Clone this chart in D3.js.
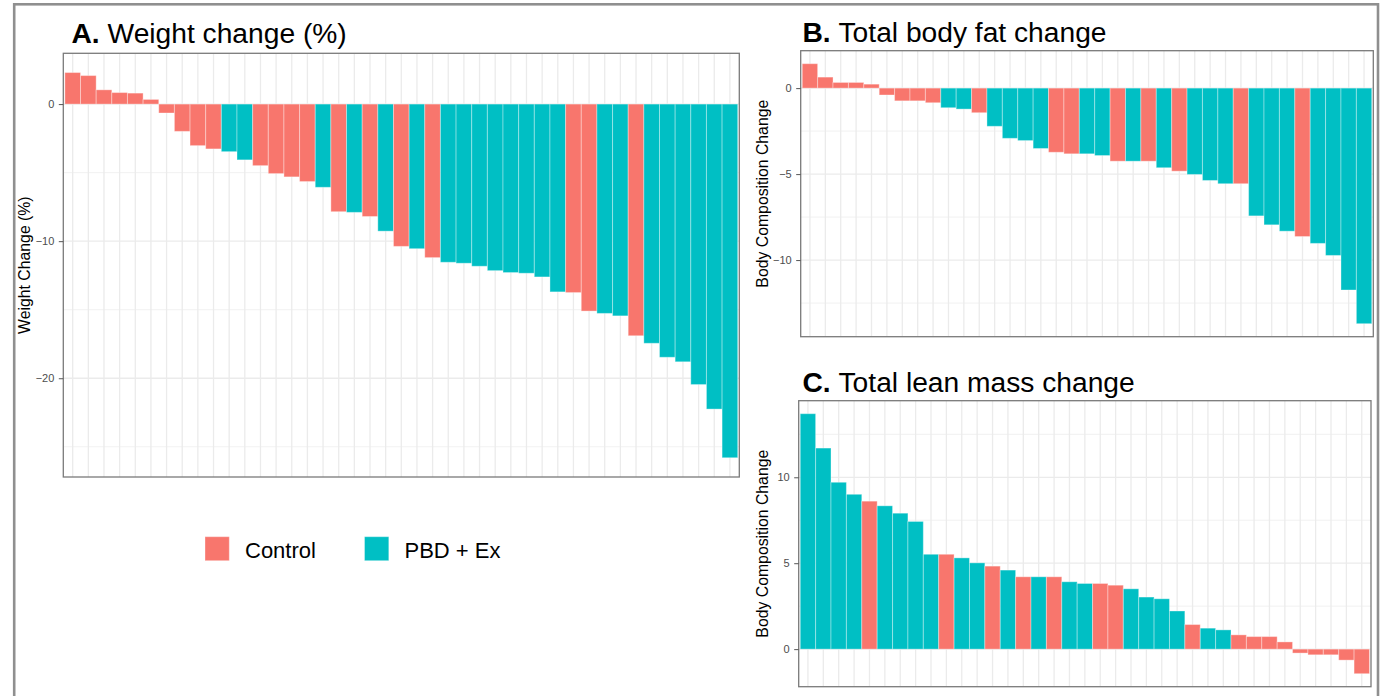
<!DOCTYPE html>
<html>
<head>
<meta charset="utf-8">
<script src="https://cdn.jsdelivr.net/npm/d3@7"></script>
<style>
  html, body { margin: 0; padding: 0; background: #fff; }
  svg { display: block; font-family: "Liberation Sans", Arial, sans-serif; }
</style>
</head>
<body>
<svg id="fig" width="1386" height="696"></svg>
<script>
// Group legend
const groupNames = ["Control", "PBD + Ex"];
const groupColors = ["#F8766D", "#00BFC4"];
const groupCode = { C: "Control", P: "PBD + Ex" };

// A. Weight change (%) per participant, sorted
const weightValues = [2.3, 2.08, 1.04, 0.84, 0.8, 0.34, -0.65, -1.99, -3.03, -3.27,
  -3.47, -4.07, -4.49, -5.07, -5.31, -5.65, -6.07, -7.85, -7.9, -8.2,
  -9.27, -10.38, -10.55, -11.2, -11.54, -11.61, -11.83, -12.15, -12.29, -12.34,
  -12.61, -13.7, -13.75, -15.1, -15.27, -15.45, -16.9, -17.45, -18.47, -18.8,
  -20.46, -22.25, -25.8];
const weightGroups = ("CCCCCCCCCC" + "PP" + "CCCC" + "P" + "C" + "P" + "C" + "P" +
  "C" + "P" + "C" + "PPPPPPPP" + "CC" + "PP" + "C" + "PPPPPP").split("");
const weightTicks = [0, -10, -20];

// B. Total body fat change
const fatValues = [1.42, 0.64, 0.33, 0.33, 0.23, -0.4, -0.74, -0.74, -0.85, -1.14,
  -1.22, -1.43, -2.22, -2.92, -3.05, -3.51, -3.73, -3.82, -3.82, -3.92,
  -4.25, -4.25, -4.25, -4.63, -4.83, -5.02, -5.37, -5.56, -5.56, -7.43,
  -7.95, -8.32, -8.63, -9.03, -9.73, -11.74, -13.7];
const fatGroups = ("CCCCCCCCC" + "PP" + "C" + "PPPP" + "CC" + "PP" + "C" + "P" +
  "C" + "P" + "C" + "PPP" + "C" + "PPP" + "C" + "PPPP").split("");
const fatTicks = [0, -5, -10];

// C. Total lean mass change
const leanValues = [13.7, 11.7, 9.71, 9.01, 8.61, 8.34, 7.91, 7.43, 5.52, 5.52,
  5.31, 5.02, 4.83, 4.6, 4.21, 4.21, 4.21, 3.92, 3.82, 3.82,
  3.72, 3.51, 3.03, 2.93, 2.22, 1.43, 1.22, 1.12, 0.83, 0.73,
  0.73, 0.42, -0.23, -0.33, -0.33, -0.64, -1.43];
const leanGroups = ("PPPP" + "C" + "PPPP" + "C" + "PP" + "C" + "P" + "C" + "P" +
  "C" + "PP" + "CC" + "PPPP" + "C" + "PP" + "CCCCCCCCC").split("");
const leanTicks = [0, 5, 10];

const svg = d3.select("#fig");
const color = d3.scaleOrdinal().domain(groupNames).range(groupColors);

// outer frame
svg.append("rect")
  .attr("x", 14.2).attr("y", 4.3)
  .attr("width", 1363.8).attr("height", 700)
  .attr("fill", "none").attr("stroke", "#8f8f8f").attr("stroke-width", 2.6);

function panel(opts) {
  const { values, groups, ticks, box, letter, title, yTitle, titleX, titleY, yTitleX } = opts;
  const n = values.length;
  const x = d3.scalePoint().domain(d3.range(n)).range([box.x0, box.x1]).padding(0.6);
  const step = x.step();
  const lo = d3.min(values), hi = d3.max(values);
  const pad = (hi - lo) * 0.05;
  const y = d3.scaleLinear().domain([lo - pad, hi + pad]).range([box.y1, box.y0]);

  const g = svg.append("g");

  // grid: minor
  const [d0, d1] = y.domain();
  const majorStep = ticks[1] - ticks[0];
  const half = Math.abs(majorStep) / 2;
  const minor = d3.range(Math.ceil(d0 / half) * half, d1, half)
    .filter(v => !ticks.some(t => Math.abs(t - v) < 1e-9));
  g.selectAll(".minor").data(minor).join("line")
    .attr("x1", box.x0).attr("x2", box.x1)
    .attr("y1", d => y(d)).attr("y2", d => y(d))
    .attr("stroke", "#EBEBEB").attr("stroke-width", 0.7);
  g.selectAll(".majorY").data(ticks).join("line")
    .attr("x1", box.x0).attr("x2", box.x1)
    .attr("y1", d => y(d)).attr("y2", d => y(d))
    .attr("stroke", "#EBEBEB").attr("stroke-width", 1.3);
  g.selectAll(".majorX").data(d3.range(n)).join("line")
    .attr("x1", d => x(d)).attr("x2", d => x(d))
    .attr("y1", box.y0).attr("y2", box.y1)
    .attr("stroke", "#EBEBEB").attr("stroke-width", 1.3);

  // bars
  g.selectAll(".bar").data(values).join("rect")
    .attr("x", (d, i) => x(i) - step / 2)
    .attr("width", step)
    .attr("y", d => Math.min(y(d), y(0)))
    .attr("height", d => Math.abs(y(d) - y(0)))
    .attr("fill", (d, i) => color(groupCode[groups[i]]))
    .attr("stroke", "#ffffff").attr("stroke-opacity", 0.35).attr("stroke-width", 1);

  // panel border
  g.append("rect")
    .attr("x", box.x0).attr("y", box.y0)
    .attr("width", box.x1 - box.x0).attr("height", box.y1 - box.y0)
    .attr("fill", "none").attr("stroke", "#7a7a7a").attr("stroke-width", 1.3);

  // y axis
  const axis = g.append("g")
    .attr("transform", `translate(${box.x0},0)`)
    .call(d3.axisLeft(y).tickValues(ticks).tickSize(4.5).tickPadding(4.5).tickFormat(d3.format("d")));
  axis.select(".domain").remove();
  axis.selectAll(".tick line").attr("stroke", "#555").attr("stroke-width", 1);
  axis.selectAll(".tick text")
    .attr("fill", "#4D4D4D").attr("font-size", "11px")
    .attr("font-family", "Liberation Sans, Arial, sans-serif");

  // y title
  g.append("text")
    .attr("transform", `translate(${yTitleX},${(box.y0 + box.y1) / 2}) rotate(-90)`)
    .attr("text-anchor", "middle")
    .attr("font-size", "15.8px").attr("fill", "#000")
    .text(yTitle);

  // panel title
  const t = g.append("text")
    .attr("x", titleX).attr("y", titleY)
    .attr("font-size", "28.2px").attr("fill", "#000");
  t.append("tspan").attr("font-weight", "bold").text(letter + " ");
  t.append("tspan").text(title);
}

panel({
  values: weightValues, groups: weightGroups, ticks: weightTicks,
  box: { x0: 63.3, x1: 739.3, y0: 53.3, y1: 477 },
  letter: "A.", title: "Weight change (%)", yTitle: "Weight Change (%)",
  titleX: 71.5, titleY: 42.5, yTitleX: 30
});
panel({
  values: fatValues, groups: fatGroups, ticks: fatTicks,
  box: { x0: 800.7, x1: 1373.3, y0: 50.7, y1: 336.7 },
  letter: "B.", title: "Total body fat change", yTitle: "Body Composition Change",
  titleX: 802.5, titleY: 41.7, yTitleX: 767.5
});
panel({
  values: leanValues, groups: leanGroups, ticks: leanTicks,
  box: { x0: 798.7, x1: 1371, y0: 400.7, y1: 686.7 },
  letter: "C.", title: "Total lean mass change", yTitle: "Body Composition Change",
  titleX: 802.5, titleY: 391.7, yTitleX: 767.5
});

// legend
const legend = svg.append("g");
const legendX = [205, 364.5];
groupNames.forEach((name, i) => {
  legend.append("rect")
    .attr("x", legendX[i]).attr("y", 536.7)
    .attr("width", 24.3).attr("height", 24)
    .attr("fill", color(name))
    .attr("stroke", "#ffffff").attr("stroke-opacity", 0.35).attr("stroke-width", 1);
  legend.append("text")
    .attr("x", legendX[i] + 40).attr("y", 557.5)
    .attr("font-size", "22px").attr("fill", "#000")
    .text(name);
});
</script>
</body>
</html>
